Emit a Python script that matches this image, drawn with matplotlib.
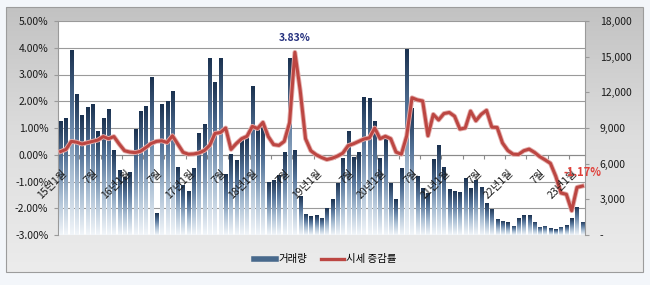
import numpy as np
import matplotlib
matplotlib.use("Agg")
import matplotlib.pyplot as plt
import matplotlib.patheffects as pe
from matplotlib.colors import LinearSegmentedColormap
from matplotlib.lines import Line2D
from matplotlib.patches import Rectangle

plt.rcParams['font.family'] = ['Noto Sans CJK KR', 'DejaVu Sans']

# 월별 거래량 (2015.01 ~ 2023.03)
volume = [9600, 9840, 15560, 11830, 10090, 10740, 10990, 8720, 9840, 10600,
          7170, 5470, 4900, 5300, 8890, 10430, 10850, 13260, 1830, 10990,
          11300, 12140, 5740, 4210, 3730, 5660, 8600, 9340, 14910, 12840,
          14910, 5100, 6790, 6310, 7990, 8330, 12530, 8960, 9210, 4480,
          4630, 5050, 6960, 14910, 7150, 3250, 1790, 1570, 1680, 1430,
          2250, 3010, 4400, 6500, 8770, 6590, 6960, 11570, 11500, 9600,
          6450, 8160, 4400, 3000, 5610, 15620, 10680, 4960, 3950, 3530,
          6370, 7570, 5740, 3840, 3730, 3640, 4770, 3930, 4630, 4040,
          2670, 2190, 1350, 1180, 1090, 780, 1400, 1680, 1680, 1120,
          700, 760, 560, 500, 700, 840, 1400, 2380, 1120]

# 시세 증감률 (%)
change = [0.12, 0.20, 0.50, 0.47, 0.40, 0.45, 0.50, 0.55, 0.68, 0.60,
          0.68, 0.40, 0.15, 0.10, 0.08, 0.13, 0.27, 0.42, 0.50, 0.52,
          0.46, 0.71, 0.40, 0.09, 0.02, 0.03, 0.07, 0.16, 0.35, 0.80,
          0.83, 1.00, 0.20, 0.42, 0.60, 0.69, 1.06, 0.98, 1.21, 0.68,
          0.38, 0.35, 0.50, 1.20, 3.83, 2.40, 0.60, 0.15, 0.00, -0.10,
          -0.18, -0.13, -0.05, 0.06, 0.34, 0.41, 0.50, 0.59, 0.63, 1.00,
          0.60, 0.69, 0.60, 0.10, 0.02, 0.70, 2.13, 2.05, 2.01, 0.71,
          1.51, 1.30, 1.54, 1.58, 1.44, 0.96, 1.00, 1.63, 1.27, 1.51,
          1.66, 1.03, 1.02, 0.44, 0.16, 0.02, 0.01, 0.15, 0.21, 0.09,
          -0.07, -0.19, -0.32, -0.80, -1.43, -1.48, -2.09, -1.22, -1.17]

tick_pos = [0, 6, 12, 18, 24, 30, 36, 42, 48, 54, 60, 66, 72, 78, 84, 90, 96]
tick_labels = ['15년1월', '7월', '16년1월', '7월', '17년1월', '7월', '18년1월', '7월',
               '19년1월', '7월', '20년1월', '7월', '21년1월', '7월', '22년1월', '7월', '23년1월']

x = np.arange(len(volume))

fig = plt.figure(figsize=(6.5, 2.85), dpi=100)
fig.patch.set_facecolor('#f3f6fa')

# 차트 영역 배경 (회색 그라데이션)
bg = fig.add_axes([0, 0, 1, 1], zorder=-10)
bg_cmap = LinearSegmentedColormap.from_list('bg', ['#c2c2c2', '#dedede', '#ececec'])
bg.imshow(np.linspace(0, 1, 256).reshape(-1, 1), extent=[6, 643, 272, 7],
          cmap=bg_cmap, aspect='auto')
bg.add_patch(Rectangle((6, 7), 637, 265, fill=False, ec='#9c9c9c', lw=0.8))
bg.set_xlim(0, 650)
bg.set_ylim(285, 0)
bg.axis('off')

rect = [58 / 650, 1 - 235 / 285, 527 / 650, 214 / 285]

# 눈금선 레이어 (왼쪽 % 축)
ax = fig.add_axes(rect)
ax.set_facecolor('white')
ax.set_xlim(-0.5, len(x) - 0.5)
ax.set_ylim(-3, 5)
ax.set_yticks(np.arange(-3, 5.01, 1))
ax.set_yticklabels([f'{v:.2f}%' for v in np.arange(-3, 5.01, 1)])
ax.grid(axis='y', color='#9a9a9a', lw=0.8)
ax.set_axisbelow(True)
ax.spines['bottom'].set_position(('data', 0))
ax.spines['bottom'].set_color('#8a8a8a')
ax.spines['left'].set_color('#9a9a9a')
ax.spines['top'].set_visible(False)
ax.spines['right'].set_visible(False)
ax.set_xticks(np.arange(-0.5, len(x), 4))
ax.tick_params(axis='x', length=3, color='#8a8a8a', labelbottom=False)
ax.tick_params(axis='y', length=3, color='#9a9a9a', pad=4, labelsize=7.5,
               labelcolor='#1a1a1a')

# 거래량 막대 (오른쪽 축)
ax2 = ax.twinx()
ax2.set_ylim(0, 18000)
ax2.set_yticks(np.arange(0, 18001, 3000))
ax2.set_yticklabels(['-'] + [f'{v:,}' for v in range(3000, 18001, 3000)])
ax2.tick_params(axis='y', length=3, color='#9a9a9a', pad=7.5, labelsize=7.5,
                labelcolor='#1a1a1a')
for s in ['top', 'left', 'bottom']:
    ax2.spines[s].set_visible(False)
ax2.spines['right'].set_color('#9a9a9a')

bar_cmap = LinearSegmentedColormap.from_list(
    'bar', ['#f1f5f9', '#a9bed3', '#56759a', '#1b3250'])
bars = ax2.bar(x, volume, width=0.6, facecolor='none', edgecolor='none')
grad = np.linspace(0, 1, 64).reshape(-1, 1)
for b in bars:
    x0, w, h = b.get_x(), b.get_width(), b.get_height()
    im = ax2.imshow(grad, extent=[x0, x0 + w, 0, h], origin='lower',
                    cmap=bar_cmap, aspect='auto', interpolation='bilinear')
    im.set_clip_path(b)
ax2.set_xlim(-0.5, len(x) - 0.5)
ax2.set_ylim(0, 18000)

# 시세 증감률 선
ax3 = ax.twinx()
ax3.set_ylim(-3, 5)
ax3.yaxis.set_visible(False)
for s in ax3.spines.values():
    s.set_visible(False)
ax3.plot(x, change, color='#bc4642', lw=2.2, solid_joinstyle='round',
         path_effects=[pe.Stroke(linewidth=3.5, foreground='#e4aeac'), pe.Normal()])

for p, lab in zip(tick_pos, tick_labels):
    ax3.annotate(lab, (p, 0), xytext=(0.5, -9.5), textcoords='offset points',
                 rotation=45, rotation_mode='anchor', ha='right', va='top',
                 fontsize=7.5, color='#1a1a1a')

peak = int(np.argmax(change))
ax3.annotate(f'{change[peak]:.2f}%', (peak, change[peak]), xytext=(0, 10),
             textcoords='offset points', ha='center', va='center',
             fontsize=7.5, fontweight='bold', color='#24307e')
last = len(change) - 1
ax3.annotate(f'{change[last]:.2f}%', (last, change[last]), xytext=(0, 9.5),
             textcoords='offset points', ha='center', va='center',
             fontsize=8, fontweight='bold', color='#e0403a', annotation_clip=False)
ax3.set_xlim(-0.5, len(x) - 0.5)

handles = [Line2D([], [], color='#48698c', lw=4),
           Line2D([], [], color='#bc4642', lw=2.4)]
fig.legend(handles, ['거래량', '시세 증감률'], loc='center', bbox_to_anchor=(0.5, 0.09),
           ncol=2, frameon=False, fontsize=7.5, handlelength=2.2,
           handletextpad=0.2, columnspacing=1.3)

fig.savefig('out.png', dpi=100, facecolor=fig.get_facecolor())
